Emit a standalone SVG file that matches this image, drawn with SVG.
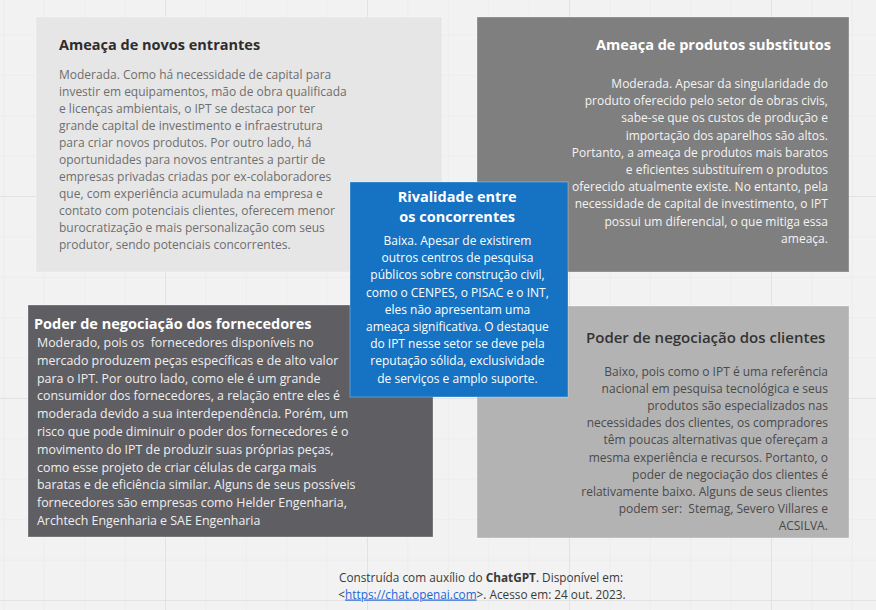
<svg xmlns="http://www.w3.org/2000/svg" width="876" height="610" viewBox="0 0 876 610">
<defs>
<pattern id="minor" x="3.4" y="34.4" width="40.4" height="40.4" patternUnits="userSpaceOnUse">
<path d="M0 0H40.4M0 0V40.4" fill="none" stroke="#e7e7e7" stroke-width="1"/>
</pattern>
<pattern id="major" x="165" y="196" width="202" height="202" patternUnits="userSpaceOnUse">
<path d="M0 0H202M0 0V202" fill="none" stroke="#dedede" stroke-width="1.5"/>
</pattern>
<style>
text{font-family:"Open Sans","Liberation Sans",sans-serif;white-space:pre}
.t{font-size:14.5px;font-weight:700}
.b{font-size:12px}
.f{font-size:11.8px}
.box{stroke:#ffffff;stroke-opacity:0.3;stroke-width:1}
.end{text-anchor:end}
.mid{text-anchor:middle}
</style>
</defs>
<rect width="876" height="610" fill="#f2f2f2"/>
<rect width="876" height="610" fill="url(#minor)"/>
<rect width="876" height="610" fill="url(#major)"/>

<g id="connectors"/>

<g id="novos-entrantes">
<rect class="box" x="36" y="17" width="406" height="255" fill="#e6e6e6"/>
<text class="t" x="59" y="50" fill="#2d2d2d">Ameaça de novos entrantes</text>
<text class="b" fill="#6e6e6e">
<tspan x="59" y="79">Moderada. Como há necessidade de capital para</tspan>
<tspan x="59" y="96">investir em equipamentos, mão de obra qualificada</tspan>
<tspan x="59" y="113">e licenças ambientais, o IPT se destaca por ter</tspan>
<tspan x="59" y="130">grande capital de investimento e infraestrutura</tspan>
<tspan x="59" y="147">para criar novos produtos. Por outro lado, há</tspan>
<tspan x="59" y="164">oportunidades para novos entrantes a partir de</tspan>
<tspan x="59" y="181">empresas privadas criadas por ex-colaboradores</tspan>
<tspan x="59" y="198">que, com experiência acumulada na empresa e</tspan>
<tspan x="59" y="215">contato com potenciais clientes, oferecem menor</tspan>
<tspan x="59" y="232">burocratização e mais personalização com seus</tspan>
<tspan x="59" y="249">produtor, sendo potenciais concorrentes.</tspan>
</text>
</g>

<g id="produtos-substitutos">
<rect class="box" x="477" y="17" width="372" height="255" fill="#7f7f7f"/>
<text class="t end" x="831" y="50" fill="#ffffff">Ameaça de produtos substitutos</text>
<text class="b end" fill="#f4f4f4">
<tspan x="831" y="88">Moderada. Apesar da singularidade do</tspan>
<tspan x="831" y="105.2">produto oferecido pelo setor de obras civis,</tspan>
<tspan x="831" y="122.4">sabe-se que os custos de produção e</tspan>
<tspan x="831" y="139.6">importação dos aparelhos são altos.</tspan>
<tspan x="831" y="156.8">Portanto, a ameaça de produtos mais baratos</tspan>
<tspan x="831" y="174">e eficientes substituírem o produtos</tspan>
<tspan x="831" y="191.2">oferecido atualmente existe. No entanto, pela</tspan>
<tspan x="831" y="208.4">necessidade de capital de investimento, o IPT</tspan>
<tspan x="831" y="225.6">possui um diferencial, o que mitiga essa</tspan>
<tspan x="831" y="242.8">ameaça.</tspan>
</text>
</g>

<g id="fornecedores">
<rect class="box" x="28" y="305" width="405" height="232" fill="#5f5e63"/>
<text class="t" x="34" y="329" fill="#ffffff">Poder de negociação dos fornecedores</text>
<text class="b" fill="#efefef" style="font-size:12.4px">
<tspan x="37" y="347">Moderado, pois os  fornecedores disponíveis no</tspan>
<tspan x="37" y="364.8">mercado produzem peças específicas e de alto valor</tspan>
<tspan x="37" y="382.6">para o IPT. Por outro lado, como ele é um grande</tspan>
<tspan x="37" y="400.4">consumidor dos fornecedores, a relação entre eles é</tspan>
<tspan x="37" y="418.2">moderada devido a sua interdependência. Porém, um</tspan>
<tspan x="37" y="436">risco que pode diminuir o poder dos fornecedores é o</tspan>
<tspan x="37" y="453.8">movimento do IPT de produzir suas próprias peças,</tspan>
<tspan x="37" y="471.6">como esse projeto de criar células de carga mais</tspan>
<tspan x="37" y="489.4">baratas e de eficiência similar. Alguns de seus possíveis</tspan>
<tspan x="37" y="507.2">fornecedores são empresas como Helder Engenharia,</tspan>
<tspan x="37" y="525">Archtech Engenharia e SAE Engenharia</tspan>
</text>
</g>

<g id="clientes">
<rect class="box" x="477" y="306" width="372" height="232" fill="#b3b3b3"/>
<text x="586" y="343" fill="#333333" style="font-size:15px;font-weight:600">Poder de negociação dos clientes</text>
<text class="b end" fill="#4a4a4a">
<tspan x="831" y="376">Baixo, pois como o IPT é uma referência</tspan>
<tspan x="831" y="393.1">nacional em pesquisa tecnológica e seus</tspan>
<tspan x="831" y="410.2">produtos são especializados nas</tspan>
<tspan x="831" y="427.3">necessidades dos clientes, os compradores</tspan>
<tspan x="831" y="444.4">têm poucas alternativas que ofereçam a</tspan>
<tspan x="831" y="461.5">mesma experiência e recursos. Portanto, o</tspan>
<tspan x="831" y="478.6">poder de negociação dos clientes é</tspan>
<tspan x="831" y="495.7">relativamente baixo. Alguns de seus clientes</tspan>
<tspan x="831" y="512.8">podem ser:  Stemag, Severo Villares e</tspan>
<tspan x="831" y="530">ACSILVA.</tspan>
</text>
</g>

<g id="rivalidade">
<rect class="box" x="350" y="182" width="218" height="215" fill="#1672c2"/>
<text class="t mid" fill="#ffffff">
<tspan x="459" y="202">Rivalidade entre</tspan>
<tspan x="459" y="222">os concorrentes</tspan>
</text>
<text class="b mid" fill="#ffffff">
<tspan x="459" y="245">Baixa. Apesar de existirem</tspan>
<tspan x="459" y="262.2">outros centros de pesquisa</tspan>
<tspan x="459" y="279.4">públicos sobre construção civil,</tspan>
<tspan x="459" y="296.6">como o CENPES, o PISAC e o INT,</tspan>
<tspan x="459" y="313.8">eles não apresentam uma</tspan>
<tspan x="459" y="331">ameaça significativa. O destaque</tspan>
<tspan x="459" y="348.2">do IPT nesse setor se deve pela</tspan>
<tspan x="459" y="365.4">reputação sólida, exclusividade</tspan>
<tspan x="459" y="382.6">de serviços e amplo suporte.</tspan>
</text>
</g>

<g id="fonte">
<text class="f mid" x="481" y="582" fill="#3a3a3a">Construída com auxílio do <tspan font-weight="700">ChatGPT</tspan>. Disponível em:</text>
<text class="f mid" x="482" y="598.5" fill="#3a3a3a">&lt;<tspan fill="#1f66d6" text-decoration="underline">https://chat.openai.com</tspan>&gt;. Acesso em: 24 out. 2023.</text>
</g>
</svg>
